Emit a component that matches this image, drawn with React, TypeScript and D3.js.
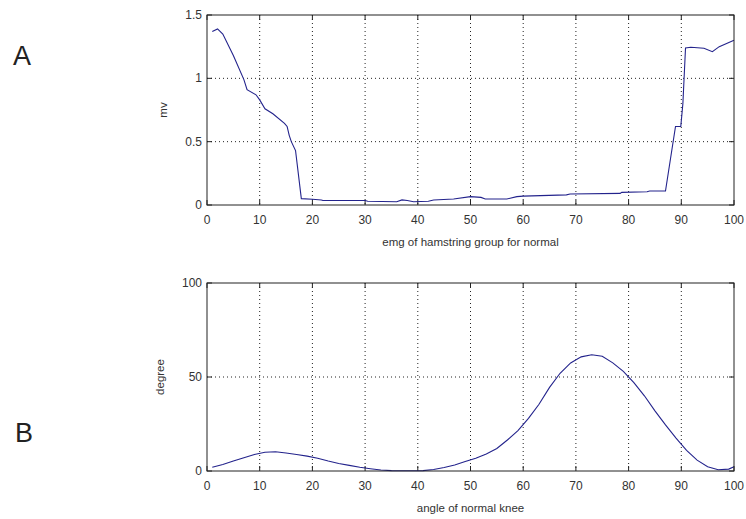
import React from "react";
import * as d3 from "d3";

// Panel A: EMG of hamstring group (mV)
const emgX = [1, 2, 3, 5, 7, 7.6, 9.3, 10, 11, 12.5, 14.7, 15.2, 15.6, 16, 16.8, 17.9, 20, 21.7, 22, 30, 30.5, 36, 37, 38, 39.2, 42, 43, 46.8, 50, 52, 52.8, 56.9, 58.8, 60, 68.2, 68.9, 78.4, 78.7, 83.5, 84, 87, 88.9, 89.9, 90.3, 90.8, 91.8, 94.3, 95.9, 97.2, 100];
const emgY = [1.37, 1.39, 1.35, 1.18, 0.99, 0.91, 0.87, 0.83, 0.76, 0.72, 0.645, 0.62, 0.55, 0.5, 0.43, 0.05, 0.045, 0.04, 0.035, 0.035, 0.03, 0.026, 0.04, 0.035, 0.026, 0.03, 0.04, 0.047, 0.066, 0.06, 0.047, 0.047, 0.066, 0.07, 0.08, 0.087, 0.092, 0.1, 0.105, 0.11, 0.11, 0.62, 0.62, 0.8, 1.24, 1.245, 1.237, 1.21, 1.25, 1.3];

// Panel B: knee angle (degree)
const kneeX = [1, 3, 5, 7, 9, 11, 13, 15, 17, 19, 21, 23, 25, 27, 29, 31, 33, 35, 37, 39, 41, 43, 45, 47, 49, 51, 53, 55, 57, 59, 61, 63, 65, 67, 69, 71, 73, 75, 77, 79, 81, 83, 85, 87, 89, 91, 93, 95, 97, 99, 100];
const kneeY = [2, 3.5, 5.3, 7, 8.8, 10, 10.2, 9.6, 8.8, 7.9, 6.8, 5.3, 4, 3, 2, 1.2, 0.5, 0.2, 0.1, 0.1, 0.2, 0.8, 1.9, 3.2, 5, 6.8, 9, 12, 16.5, 21.5, 28, 35.5, 44.5, 52, 57.5, 60.7, 61.8, 61, 57.5, 53, 47, 40, 32, 24.5, 17.5, 11, 5.8, 2.3, 0.7, 1, 2.3];

const xTicks = [0, 10, 20, 30, 40, 50, 60, 70, 80, 90, 100];
const emgTicks = [0, 0.5, 1, 1.5];
const emgTickLabels = ["0", "0.5", "1", "1.5"];
const kneeTicks = [0, 50, 100];
const kneeTickLabels = ["0", "50", "100"];

const FONT = "'Liberation Sans', Arial, sans-serif";
const LINE = "#23238c";

type PanelProps = {
  top: number;
  bottom: number;
  xs: number[];
  ys: number[];
  yMax: number;
  yTicks: number[];
  yTickLabels: string[];
  ylabel: string;
  ylabelX: number;
  xlabel: string;
};

function Panel(p: PanelProps) {
  const left = 207;
  const right = 734;
  const x = d3.scaleLinear().domain([0, 100]).range([left, right]);
  const y = d3.scaleLinear().domain([0, p.yMax]).range([p.bottom, p.top]);
  const line = d3
    .line<number>()
    .x((_, i) => x(p.xs[i]))
    .y((d) => y(d))(p.ys) as string;
  const tk = 5;
  return (
    <g>
      {/* grid */}
      {xTicks.slice(1, -1).map((t) => (
        <line key={"gx" + t} x1={x(t)} x2={x(t)} y1={p.top} y2={p.bottom} stroke="#222" strokeWidth={1} strokeDasharray="1,3" />
      ))}
      {p.yTicks.slice(1, -1).map((t) => (
        <line key={"gy" + t} x1={left} x2={right} y1={y(t)} y2={y(t)} stroke="#222" strokeWidth={1} strokeDasharray="1,3" />
      ))}
      {/* ticks */}
      {xTicks.map((t) => (
        <g key={"tx" + t}>
          <line x1={x(t)} x2={x(t)} y1={p.bottom} y2={p.bottom - tk} stroke="#222" />
          <line x1={x(t)} x2={x(t)} y1={p.top} y2={p.top + tk} stroke="#222" />
          <text x={x(t)} y={p.bottom + 19} textAnchor="middle" fontSize={12} fontFamily={FONT} fill="#333">
            {t}
          </text>
        </g>
      ))}
      {p.yTicks.map((t, i) => (
        <g key={"ty" + t}>
          <line x1={left} x2={left + tk} y1={y(t)} y2={y(t)} stroke="#222" />
          <line x1={right} x2={right - tk} y1={y(t)} y2={y(t)} stroke="#222" />
          <text x={left - 5} y={y(t) + 4} textAnchor="end" fontSize={12} fontFamily={FONT} fill="#333">
            {p.yTickLabels[i]}
          </text>
        </g>
      ))}
      <path d={line} fill="none" stroke={LINE} strokeWidth={1.1} />
      <rect x={left} y={p.top} width={right - left} height={p.bottom - p.top} fill="none" stroke="#222" strokeWidth={1} />
      <text x={(left + right) / 2} y={p.bottom + 41} textAnchor="middle" fontSize={11.5} fontFamily={FONT} fill="#333">
        {p.xlabel}
      </text>
      <text
        transform={`translate(${p.ylabelX},${(p.top + p.bottom) / 2}) rotate(-90)`}
        textAnchor="middle"
        fontSize={11.5}
        fontFamily={FONT}
        fill="#333"
      >
        {p.ylabel}
      </text>
    </g>
  );
}

export default function App() {
  return (
    <svg width={746} height={519} style={{ position: "absolute", left: 0, top: 0, background: "#fff" }}>
      <rect width={746} height={519} fill="#fff" />
      <text x={22} y={65} textAnchor="middle" fontSize={27} fontFamily={FONT} fill="#222" fontWeight={300}>
        A
      </text>
      <text x={24} y={442} textAnchor="middle" fontSize={27} fontFamily={FONT} fill="#222" fontWeight={300}>
        B
      </text>
      <Panel
        top={15}
        bottom={205}
        xs={emgX}
        ys={emgY}
        yMax={1.5}
        yTicks={emgTicks}
        yTickLabels={emgTickLabels}
        ylabel="mv"
        ylabelX={167}
        xlabel="emg of hamstring group for normal"
      />
      <Panel
        top={283}
        bottom={471}
        xs={kneeX}
        ys={kneeY}
        yMax={100}
        yTicks={kneeTicks}
        yTickLabels={kneeTickLabels}
        ylabel="degree"
        ylabelX={164}
        xlabel="angle of normal knee"
      />
    </svg>
  );
}
